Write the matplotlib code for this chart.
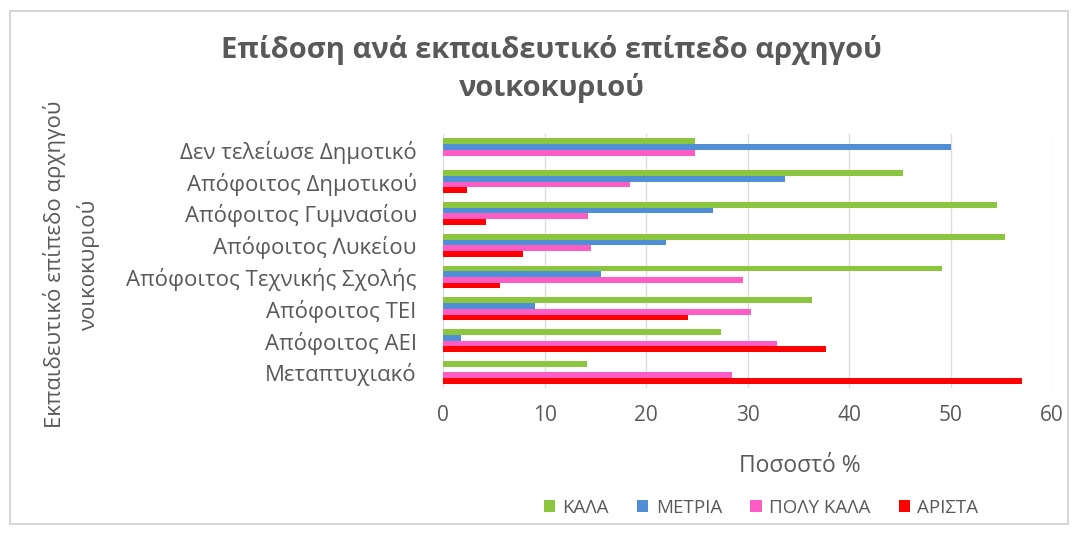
import numpy as np
import matplotlib.pyplot as plt
from matplotlib.patches import Rectangle

plt.rcParams['font.family'] = ['Open Sans', 'DejaVu Sans']

# Data
categories = ['Δεν τελείωσε Δημοτικό', 'Απόφοιτος Δημοτικού', 'Απόφοιτος Γυμνασίου',
              'Απόφοιτος Λυκείου', 'Απόφοιτος Τεχνικής Σχολής', 'Απόφοιτος ΤΕΙ',
              'Απόφοιτος ΑΕΙ', 'Μεταπτυχιακό']
kala = [24.8, 45.3, 54.6, 55.4, 49.2, 36.3, 27.4, 14.2]
metria = [50.0, 33.7, 26.6, 22.0, 15.6, 9.1, 1.8, 0.0]
poly_kala = [24.8, 18.4, 14.3, 14.6, 29.5, 30.3, 32.9, 28.5]
arista = [0.0, 2.4, 4.2, 7.9, 5.6, 24.1, 37.7, 57.0]

series = [('ΚΑΛΑ', kala, '#8CC63F'),
          ('ΜΕΤΡΙΑ', metria, '#4F8FD6'),
          ('ΠΟΛΥ ΚΑΛΑ', poly_kala, '#FF5CC6'),
          ('ΑΡΙΣΤΑ', arista, '#FF0000')]

text_col = '#595959'

fig = plt.figure(figsize=(10.78, 5.34), dpi=100)
fig.patches.append(Rectangle((10 / 1078, 1 - 524 / 534), 1058 / 1078, 513 / 534,
                             transform=fig.transFigure, fill=False,
                             edgecolor='#D0D0D0', linewidth=1.2))

ax = fig.add_axes([0.411, 0.273, 0.565, 0.476])

y = np.arange(len(categories))
h = 0.18
for k, (name, vals, col) in enumerate(series):
    ax.barh(y + (k - 1.5) * h, vals, height=h, color=col, label=name, zorder=3)

ax.set_xlim(0, 60)
ax.set_ylim(len(categories) - 0.5, -0.5)
ax.set_xticks(range(0, 61, 10))
ax.set_yticks(y)
ax.set_yticklabels(categories)
ax.tick_params(axis='both', length=0, colors=text_col)
ax.tick_params(axis='y', pad=19, labelsize=16)
ax.tick_params(axis='x', pad=12, labelsize=15)
ax.grid(axis='x', color='#DCDCDC', linewidth=1, zorder=0)
for s in ax.spines.values():
    s.set_visible(False)

fig.text(0.512, 0.87, 'Επίδοση ανά εκπαιδευτικό επίπεδο αρχηγού\nνοικοκυριού',
         ha='center', va='center', fontsize=21, fontweight='bold',
         color=text_col, linespacing=1.35)
fig.text(0.742, 0.128, 'Ποσοστό %', ha='center', va='center', fontsize=16.5, color=text_col)
fig.text(0.066, 0.505, 'Εκπαιδευτικό επίπεδο αρχηγού\nνοικοκυριού', ha='center', va='center',
         rotation=90, fontsize=16, color=text_col, linespacing=1.6)

ax.legend(loc='center', bbox_to_anchor=(0.706, 0.049), bbox_transform=fig.transFigure,
          ncol=4, frameon=False, fontsize=13.5, labelcolor=text_col,
          handlelength=0.6, handleheight=0.6, handletextpad=0.4, columnspacing=1.5)

fig.savefig('out.png', dpi=100)
